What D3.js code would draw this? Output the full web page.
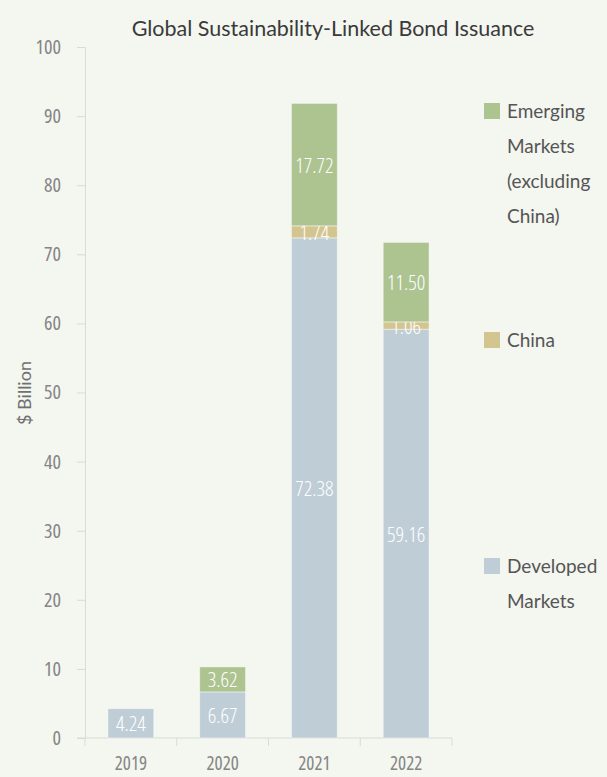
<!DOCTYPE html>
<html lang="en">
<head>
   <meta charset="UTF-8">
   <title>Global Sustainability-Linked Bond Issuance</title>
   <script src="https://d3js.org/d3.v7.min.js"></script>
   <style>
       body {
           margin: 0;
           background: #f4f6f0;
       }
       svg text {
           font-family: "Open Sans", Roboto, sans-serif;
           font-stretch: 75%;
       }
       svg text.wide {
           font-family: Lato, "Open Sans", sans-serif;
           font-stretch: 100%;
       }
       .axis path, .axis line {
           stroke: #d9dbd6;
       }
       .axis text {
           fill: #858585;
       }
   </style>
</head>
<body>
   <div id="chart"></div>

   <script>
       // data
       const years = ["2019", "2020", "2021", "2022"];
       const developed = [4.24, 6.67, 72.38, 59.16];
       const china = [0, 0, 1.74, 1.06];
       const emerging = [0, 3.62, 17.72, 11.50];
       const yTicks = [0, 10, 20, 30, 40, 50, 60, 70, 80, 90, 100];

       const seriesNames = ["Developed Markets", "China", "Emerging Markets (excluding China)"];
       const colors = ["#bfcdd6", "#d3c58f", "#adc491"];

       const width = 607;
       const height = 777;

       const svg = d3.select("#chart").append("svg")
           .attr("width", width)
           .attr("height", height);

       const x = d3.scaleBand()
           .domain(years)
           .range([85, 452])
           .paddingInner(0.5)
           .paddingOuter(0.25);

       const y = d3.scaleLinear()
           .domain([0, 100])
           .range([738, 47]);

       // title
       svg.append("text")
           .attr("class", "wide")
           .attr("x", 333)
           .attr("y", 36)
           .attr("text-anchor", "middle")
           .style("font-size", "21.5px")
           .style("fill", "#3a3a3a")
           .text("Global Sustainability-Linked Bond Issuance");

       // y axis
       const yAxis = svg.append("g")
           .attr("class", "axis")
           .attr("transform", "translate(85,0)")
           .call(d3.axisLeft(y).tickValues(yTicks).tickSize(8).tickPadding(16).tickSizeOuter(8));
       yAxis.selectAll("text").style("font-size", "20px");

       svg.append("text")
           .attr("class", "wide")
           .attr("transform", "translate(25,393) rotate(-90)")
           .attr("text-anchor", "middle")
           .attr("dy", "0.35em")
           .style("font-size", "18px")
           .style("fill", "#707070")
           .text("$ Billion");

       // x axis
       const xAxis = svg.append("g")
           .attr("class", "axis")
           .attr("transform", "translate(0,738)")
           .call(d3.axisBottom(x).tickSize(0).tickPadding(19));
       xAxis.select(".domain").remove();
       xAxis.selectAll("text").style("font-size", "19px");
       svg.selectAll(".axis").attr("font-family", null);

       svg.append("line")
           .attr("x1", 77).attr("x2", 452)
           .attr("y1", 738).attr("y2", 738)
           .attr("stroke", "#d9dbd6");

       const bounds = [x.range()[0]].concat(years.map(d => x(d) + x.bandwidth() + x.step() * x.paddingInner() / 2));
       bounds[bounds.length - 1] = x.range()[1];
       svg.selectAll(".xtick")
           .data(bounds)
           .enter().append("line")
           .attr("x1", d => d).attr("x2", d => d)
           .attr("y1", 738).attr("y2", 746)
           .attr("stroke", "#d9dbd6");

       // stacks
       const rows = years.map((yr, i) => ({
           year: yr,
           developed: developed[i],
           china: china[i],
           emerging: emerging[i]
       }));
       const keys = ["developed", "china", "emerging"];
       const stacked = d3.stack().keys(keys)(rows);

       const layers = svg.selectAll(".layer")
           .data(stacked)
           .enter().append("g")
           .attr("fill", (d, i) => colors[i]);

       layers.selectAll("rect")
           .data(d => d.filter(s => s[1] - s[0] > 0))
           .enter().append("rect")
           .attr("x", d => x(d.data.year))
           .attr("y", d => y(d[1]))
           .attr("width", x.bandwidth())
           .attr("height", d => y(d[0]) - y(d[1]))
           .attr("stroke", "rgba(255,255,255,0.45)")
           .attr("stroke-width", 1);

       layers.selectAll("text")
           .data(d => d.filter(s => s[1] - s[0] > 0))
           .enter().append("text")
           .attr("x", d => x(d.data.year) + x.bandwidth() / 2)
           .attr("y", d => (y(d[0]) + y(d[1])) / 2)
           .attr("dy", "0.38em")
           .attr("text-anchor", "middle")
           .style("font-size", "21px")
           .style("font-weight", "300")
           .style("fill", "#ffffff")
           .text(d => (d[1] - d[0]).toFixed(2));

       // legend
       const legend = [
           { lines: ["Emerging", "Markets", "(excluding", "China)"], y: 111, c: colors[2] },
           { lines: ["China"], y: 340, c: colors[1] },
           { lines: ["Developed", "Markets"], y: 566, c: colors[0] }
       ];

       legend.forEach(l => {
           svg.append("rect")
               .attr("x", 484).attr("y", l.y - 8)
               .attr("width", 16).attr("height", 16)
               .attr("fill", l.c);
           const t = svg.append("text")
               .attr("class", "wide")
               .attr("x", 507)
               .attr("y", l.y)
               .style("font-size", "19px")
               .style("fill", "#555555");
           l.lines.forEach((s, i) => {
               t.append("tspan")
                   .attr("x", 507)
                   .attr("dy", i === 0 ? "0.36em" : "35px")
                   .text(s);
           });
       });
   </script>
</body>
</html>
